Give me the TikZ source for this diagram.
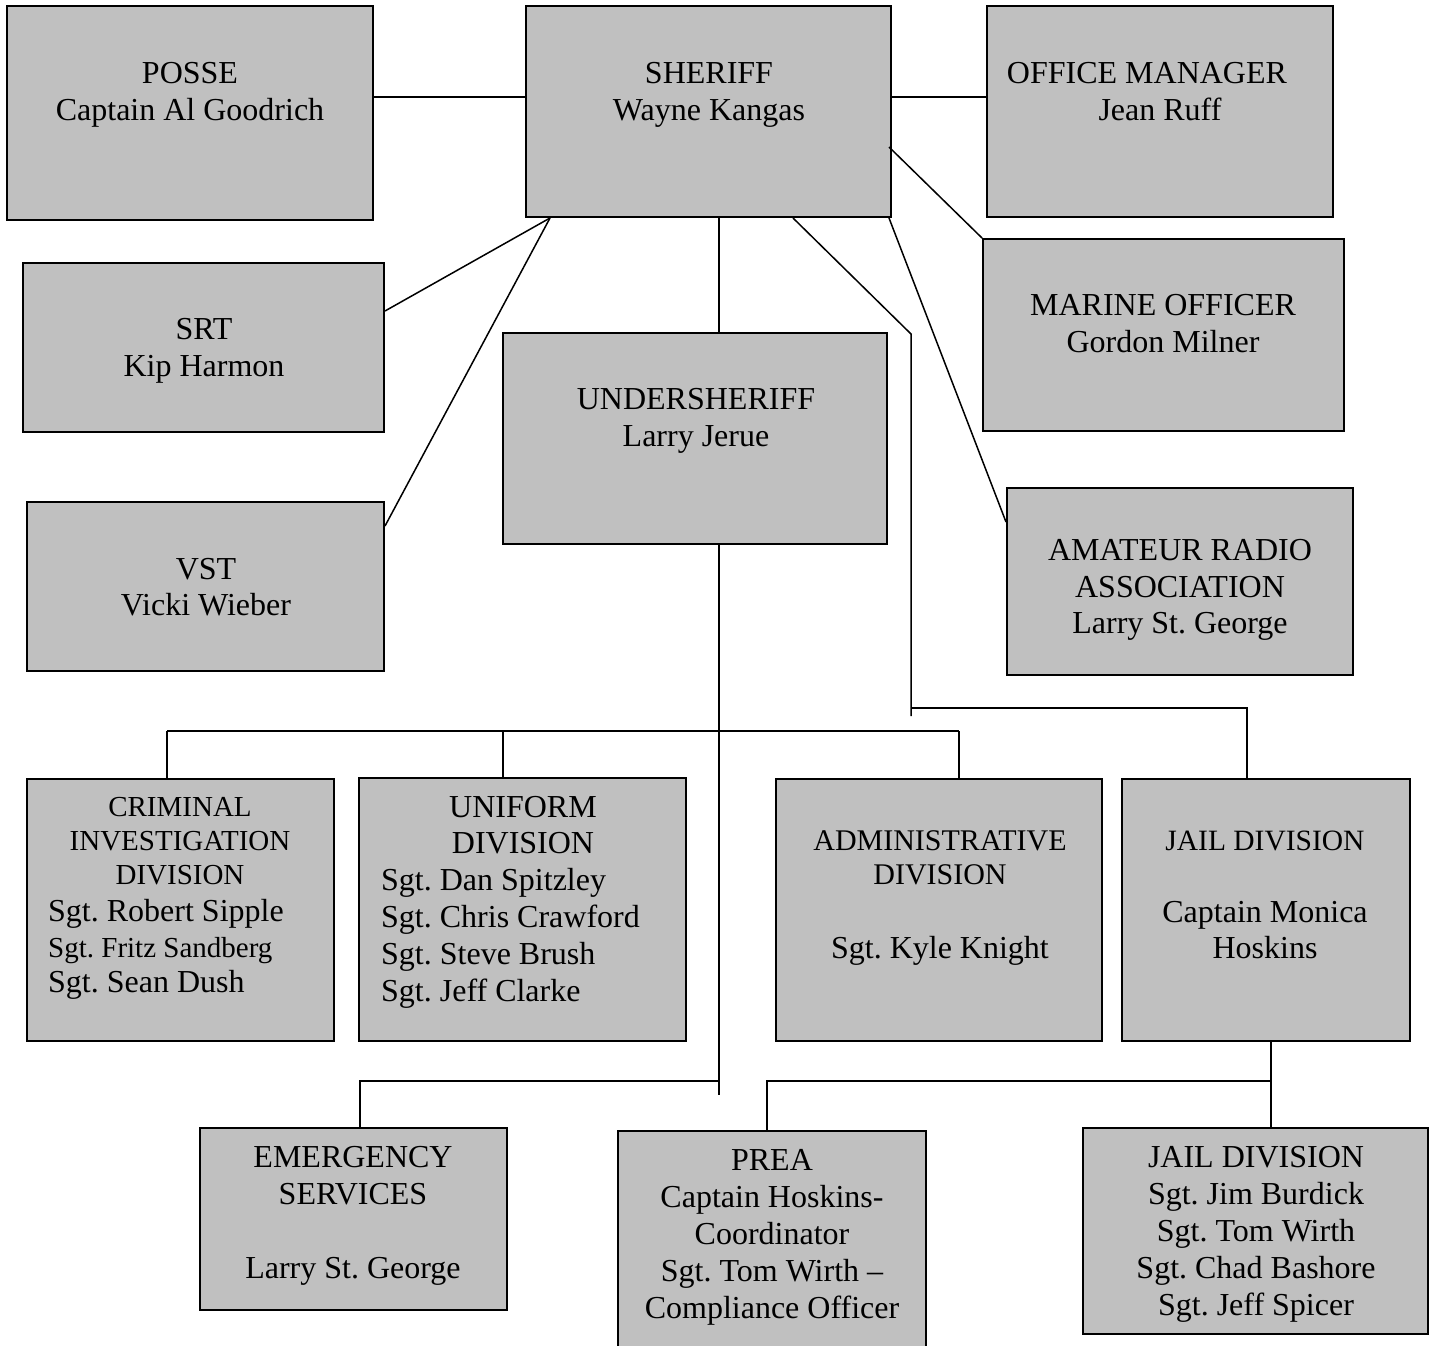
\documentclass[tikz,border=0pt]{standalone}
\usepackage{fontspec}
\setmainfont{Liberation Serif}
\usetikzlibrary{fit,calc}
\definecolor{boxgray}{HTML}{C0C0C0}
\frenchspacing
\begin{document}
\begin{tikzpicture}[x=1pt,y=-1pt,
  box/.style={draw=black, line width=2pt, fill=boxgray, inner sep=0pt},
  conn/.style={draw=black, line width=1.5pt},
  txt/.style={inner sep=0pt, align=center, anchor=north, font=\fontsize{32}{37}\selectfont},
  txtl/.style={inner sep=0pt, align=left, anchor=north west, font=\fontsize{32}{37}\selectfont}]
\clip (0,0) rectangle (1435,1346);
\fill[white] (0,0) rectangle (1435,1346);

% boxes
\node[box, fit={(7,6) (373,220)}] (posse) {};
\node[box, fit={(526,6) (891,217)}] (sheriff) {};
\node[box, fit={(987,6) (1333,217)}] (office) {};
\node[box, fit={(23,263) (384,432)}] (srt) {};
\node[box, fit={(27,502) (384,671)}] (vst) {};
\node[box, fit={(503,333) (887,544)}] (under) {};
\node[box, fit={(983,239) (1344,431)}] (marine) {};
\node[box, fit={(1007,488) (1353,675)}] (amateur) {};
\node[box, fit={(27,779) (334,1041)}] (crim) {};
\node[box, fit={(359,778) (686,1041)}] (unif) {};
\node[box, fit={(776,779) (1102,1041)}] (admin) {};
\node[box, fit={(1122,779) (1410,1041)}] (jailA) {};
\node[box, fit={(200,1128) (507,1310)}] (emer) {};
\node[box, fit={(618,1131) (926,1352)}] (prea) {};
\node[box, fit={(1083,1128) (1428,1334)}] (jailB) {};

% connectors
\draw[conn] (posse.east |- 0,97) -- (sheriff.west |- 0,97);
\draw[conn] (sheriff.east |- 0,97) -- (office.west |- 0,97);
\draw[conn] ($(sheriff.east)+(-3,35.5)$) -- (marine.north west);
\draw[conn] ($(sheriff.south west)+(25,0)$) -- (srt.east |- 0,311);
\draw[conn] ($(sheriff.south west)+(25,0)$) -- (vst.east |- 0,526);
\draw[conn] (sheriff.south -| 719,0) -- (under.north -| 719,0);
\draw[conn] (sheriff.south -| 793,0) -- (911,334) -- (911,716);
\coordinate (jbranch) at (911,708);
\draw[conn] (jbranch) -- (1247,708) -- (jailA.north -| 1247,0);
\draw[conn] ($(sheriff.south east)+(-3,0)$) -- (amateur.west |- 0,522);
% undersheriff tree
\draw[conn] (under.south -| 719,0) -- (719,1095);
\draw[conn] (167,731) -- (959,731);
\draw[conn] (167,731) -- (crim.north -| 167,0);
\draw[conn] (503,731) -- (unif.north -| 503,0);
\draw[conn] (959,731) -- (admin.north -| 959,0);
\draw[conn] (719,1081) -- (360,1081) -- (emer.north -| 360,0);
% jail tree
\draw[conn] (jailA.south -| 1271,0) -- (jailB.north -| 1271,0);
\draw[conn] (1271,1081) -- (767,1081) -- (prea.north -| 767,0);

% texts
\node[txt] (tposse) at (190,62.5) {POSSE\\Captain Al Goodrich};
\node[txt] (tsheriff) at (709,62.5) {SHERIFF\\Wayne Kangas};
\node[txt] (toffice) at (1147,62.5) {OFFICE MANAGER\\\hspace*{26pt}Jean Ruff};
\node[txt] (tsrt) at (204,318.5) {SRT\\Kip Harmon};
\node[txt, font=\fontsize{32}{36}\selectfont] (tvst) at (206,558.5) {VST\\Vicki Wieber};
\node[txt] (tunder) at (696,388.5) {UNDERSHERIFF\\Larry Jerue};
\node[txt] (tmarine) at (1163,294.5) {MARINE OFFICER\\Gordon Milner};
\node[txt, font=\fontsize{32}{36.5}\selectfont] (tamateur) at (1180,539.5) {AMATEUR RADIO\\ASSOCIATION\\Larry St. George};
\node[txt, font=\fontsize{29}{34}\selectfont] (tcrimh) at (180,797) {CRIMINAL\\INVESTIGATION\\DIVISION};
\node[txtl, font=\fontsize{32}{35.5}\selectfont] (tcrims) at (48,899.5) {Sgt. Robert Sipple\\{\fontsize{29}{35.5}\selectfont Sgt. Fritz Sandberg}\\Sgt. Sean Dush};
\node[txt, font=\fontsize{32}{36}\selectfont] (tunifh) at (523,796.5) {UNIFORM\\DIVISION};
\node[txtl] (tunifs) at (381,868.5) {Sgt. Dan Spitzley\\Sgt. Chris Crawford\\Sgt. Steve Brush\\Sgt. Jeff Clarke};
\node[txt, font=\fontsize{30}{33.5}\selectfont] (tadmin) at (940,830.5) {ADMINISTRATIVE\\DIVISION\\[40.5pt]{\fontsize{32}{33.5}\selectfont Sgt. Kyle Knight}};
\node[txt, font=\fontsize{32}{36}\selectfont] (tjailA) at (1265,830.5) {{\fontsize{29.5}{36}\selectfont JAIL DIVISION}\\[36pt]Captain Monica\\Hoskins};
\node[txt] (temer) at (353,1146.5) {EMERGENCY\\SERVICES\\[37pt]Larry St. George};
\node[txt] (tprea) at (772,1149.5) {PREA\\Captain Hoskins-\\Coordinator\\Sgt. Tom Wirth –\\Compliance Officer};
\node[txt] (tjailB) at (1256,1146.5) {JAIL DIVISION\\Sgt. Jim Burdick\\Sgt. Tom Wirth\\Sgt. Chad Bashore\\Sgt. Jeff Spicer};
\end{tikzpicture}
\end{document}
